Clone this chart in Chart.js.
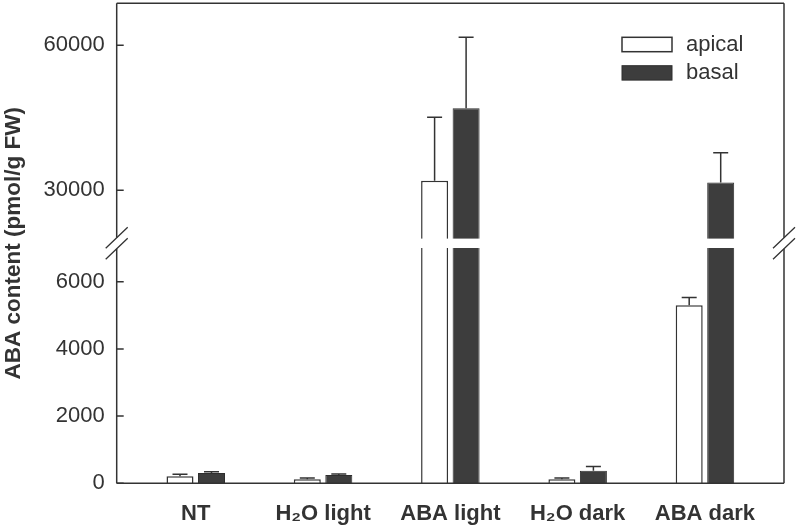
<!DOCTYPE html>
<html><head><meta charset="utf-8">
<script src="https://cdn.jsdelivr.net/npm/chart.js@4/dist/chart.umd.min.js"></script>
<style>html,body{margin:0;padding:0;background:#fff}#wrap{width:800px;height:532px}</style>
</head><body><div id="wrap"><canvas id="c" width="800" height="532"></canvas></div>
<script>
// ---- data ----
const categories = ['NT', 'H\u2082O light', 'ABA light', 'H\u2082O dark', 'ABA dark'];
const seriesNames = ['apical', 'basal'];
const apical    = [210, 120, 32000, 120, 5300];
const apicalErr = [60, 40, 13100, 35, 230];
const basal     = [310, 250, 47000, 370, 31600];
const basalErr  = [35, 25, 14650, 130, 6150];
const lowerTicks = [0, 2000, 4000, 6000];
const upperTicks = [30000, 60000];
const yTitle = 'ABA content (pmol/g FW)';

// ---- axis ranges of the broken axis ----
const LOWER_MIN = 0, LOWER_MAX = 7143;
const UPPER_MIN = 19034, UPPER_MAX = 68690;

const FONT = "'Liberation Sans', Arial, Helvetica, sans-serif";
const INK = '#333333';
const DARK = '#3d3d3d';
const TITLE_SIZE = 22.5;
const AXIS_W = 116.7 - TITLE_SIZE * 1.2;

function lowerPart(vals) { return vals.map((v, i) => ({ x: i, y: Math.min(v, LOWER_MAX) })); }
function upperPart(vals) { return vals.map((v, i) => ({ x: i, y: v > LOWER_MAX ? [UPPER_MIN, v] : null })); }

const apicalStyle = { backgroundColor: '#ffffff', borderColor: INK, borderWidth: 1.5 };
const basalStyle  = { backgroundColor: DARK, borderColor: '#2f2f2f', borderWidth: 1 };

const datasets = [
  Object.assign({ label: seriesNames[0], data: lowerPart(apical), yAxisID: 'yLow', stack: 'apical' }, apicalStyle),
  Object.assign({ label: seriesNames[0], data: upperPart(apical), yAxisID: 'yUp',  stack: 'apical' }, apicalStyle),
  Object.assign({ label: seriesNames[1], data: lowerPart(basal),  yAxisID: 'yLow', stack: 'basal' }, basalStyle),
  Object.assign({ label: seriesNames[1], data: upperPart(basal),  yAxisID: 'yUp',  stack: 'basal' }, basalStyle)
];

const decor = {
  id: 'decor',
  afterDatasetsDraw(chart) {
    const { ctx, chartArea: ca, scales } = chart;
    const yUp = scales.yUp, yLow = scales.yLow;
    const brk = (yUp.bottom + yLow.top) / 2;
    const L = ca.left, R = ca.right, T = ca.top, B = ca.bottom;
    ctx.save();
    // break gap
    ctx.fillStyle = '#ffffff';
    ctx.fillRect(L + 1, brk - 4.7, R - L - 2, 9.4);
    // error bars
    ctx.strokeStyle = INK; ctx.lineWidth = 1.5; ctx.lineCap = 'butt';
    [[0, apical, apicalErr], [2, basal, basalErr]].forEach(([di, vals, errs]) => {
      const meta = chart.getDatasetMeta(di);
      vals.forEach((v, i) => {
        const x = meta.data[i].x;
        const sc = v > LOWER_MAX ? yUp : yLow;
        const y0 = sc.getPixelForValue(v), y1 = sc.getPixelForValue(v + errs[i]);
        ctx.beginPath();
        ctx.moveTo(x, y0); ctx.lineTo(x, y1);
        ctx.moveTo(x - 7.5, y1); ctx.lineTo(x + 7.5, y1);
        ctx.stroke();
      });
    });
    // frame
    const g = 5.5;
    ctx.beginPath();
    ctx.moveTo(L, T); ctx.lineTo(R, T);
    ctx.moveTo(L, B); ctx.lineTo(R, B);
    [L, R].forEach(X => {
      ctx.moveTo(X, T); ctx.lineTo(X, brk - g);
      ctx.moveTo(X, brk + g); ctx.lineTo(X, B);
    });
    ctx.stroke();
    // break slashes
    ctx.lineWidth = 1.3;
    ctx.beginPath();
    [L, R].forEach(X => {
      [brk - g, brk + g].forEach(yc => {
        ctx.moveTo(X - 11, yc + 10.5); ctx.lineTo(X + 11, yc - 10.5);
      });
    });
    ctx.stroke();
    // inward ticks
    ctx.lineWidth = 1.5;
    ctx.beginPath();
    [yLow, yUp].forEach(sc => sc.ticks.forEach(t => {
      const py = sc.getPixelForValue(t.value);
      ctx.moveTo(L, py); ctx.lineTo(L + 7, py);
    }));
    ctx.stroke();
    // legend
    const lx = R - 162, ly = T + 34, step = 28.4;
    [0, 2].forEach((di, k) => {
      const ds = chart.data.datasets[di];
      const by = ly + k * step;
      ctx.fillStyle = ds.backgroundColor;
      ctx.fillRect(lx, by, 50, 14.4);
      ctx.strokeStyle = ds.borderColor; ctx.lineWidth = ds.borderWidth;
      ctx.strokeRect(lx, by, 50, 14.4);
      ctx.fillStyle = INK;
      ctx.font = '22px ' + FONT;
      ctx.textBaseline = 'middle'; ctx.textAlign = 'left';
      ctx.fillText(ds.label, lx + 64, by + 7.2);
    });
    ctx.restore();
  }
};

function fitY(s) { s.width = AXIS_W; s.paddingTop = 0; s.paddingBottom = 0; }

const yCommon = {
  type: 'linear', position: 'left', stack: 'yb', stackWeight: 1, stacked: false, offset: false,
  afterFit: fitY,
  grid: { display: false, drawTicks: false }, border: { display: false },
  ticks: { padding: 12, color: INK, font: { family: FONT, size: 22 }, callback: v => String(v) }
};

new Chart(document.getElementById('c'), {
  type: 'bar',
  data: { datasets },
  options: {
    responsive: false, animation: false, devicePixelRatio: 1,
    layout: { padding: { top: 3.3, right: 16, left: 0, bottom: 0 } },
    datasets: { bar: { categoryPercentage: 0.495, barPercentage: 0.857 } },
    plugins: {
      legend: { display: false }, tooltip: { enabled: false },
      title: { display: true, text: yTitle, position: 'left', fullSize: false,
        font: { family: FONT, size: TITLE_SIZE, weight: 'bold' }, color: INK, padding: { top: 0, bottom: 0 } }
    },
    scales: {
      x: { type: 'linear', min: -0.621, max: 4.621, offset: false,
        afterBuildTicks: s => { s.ticks = categories.map((c, i) => ({ value: i })); },
        afterFit: s => { s.height = 48.7; s.paddingLeft = 0; s.paddingRight = 0; },
        grid: { display: false, drawTicks: false }, border: { display: false },
        ticks: { padding: 17, maxRotation: 0, autoSkip: false, color: INK,
          font: { family: FONT, size: 22, weight: 'bold' }, callback: v => categories[v] } },
      yLow: Object.assign({}, yCommon, { min: LOWER_MIN, max: LOWER_MAX,
        afterBuildTicks: s => { s.ticks = lowerTicks.map(v => ({ value: v })); } }),
      yUp: Object.assign({}, yCommon, { min: UPPER_MIN, max: UPPER_MAX,
        afterBuildTicks: s => { s.ticks = upperTicks.map(v => ({ value: v })); } })
    }
  },
  plugins: [decor]
});
</script></body></html>
